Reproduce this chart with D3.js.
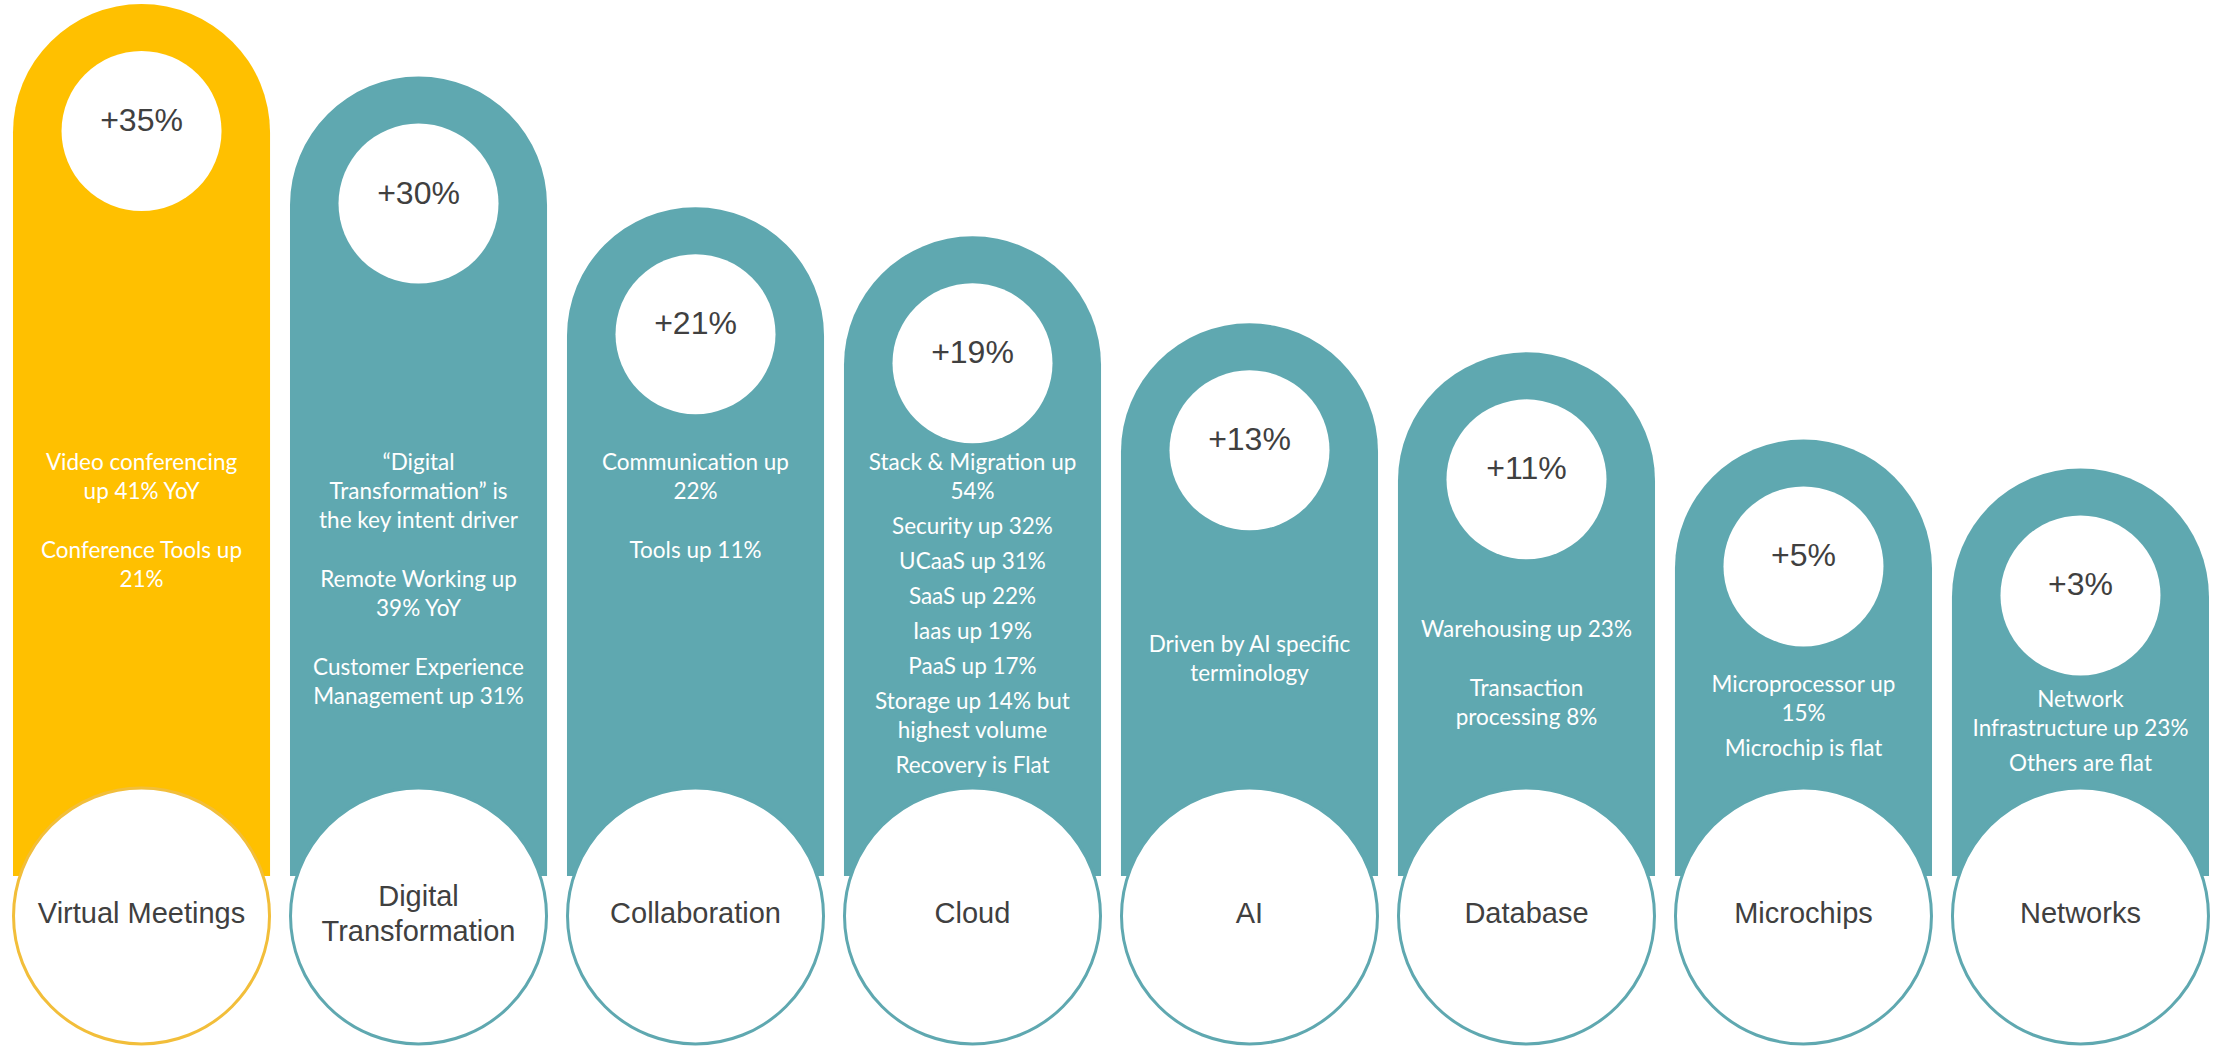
<!DOCTYPE html>
<html>
<head>
<meta charset="utf-8">
<script src="https://cdn.jsdelivr.net/npm/d3@7"></script>
<style>
  html, body { margin: 0; padding: 0; background: #fff; overflow: hidden; }
  svg { display: block; }
  .note { font-family: Lato, "Open Sans", sans-serif; fill: #fff; font-size: 22.5px; }
  .pct, .cat { font-family: "Liberation Sans", Arial, Helvetica, sans-serif; fill: #404040; }
</style>
</head>
<body>
<svg id="chart"></svg>
<script>
// Topic categories and their year-over-year intent growth (%)
const categories = [
  "Virtual Meetings", "Digital Transformation", "Collaboration", "Cloud",
  "AI", "Database", "Microchips", "Networks"
];
const growth = [35, 30, 21, 19, 13, 11, 5, 3];

// Supporting notes per category: paragraphs, each a list of lines
const notes = [
  [["Video conferencing", "up 41% YoY"], ["Conference Tools up", "21%"]],
  [["\u201CDigital", "Transformation\u201D is", "the key intent driver"],
   ["Remote Working up", "39% YoY"],
   ["Customer Experience", "Management up 31%"]],
  [["Communication up", "22%"], ["Tools up 11%"]],
  [["Stack & Migration up", "54%"], ["Security up 32%"], ["UCaaS up 31%"],
   ["SaaS up 22%"], ["Iaas up 19%"], ["PaaS up 17%"],
   ["Storage up 14% but", "highest volume"], ["Recovery is Flat"]],
  [["Driven by AI specific", "terminology"]],
  [["Warehousing up 23%"], ["Transaction", "processing 8%"]],
  [["Microprocessor up", "15%"], ["Microchip is flat"]],
  [["Network", "Infrastructure up 23%"], ["Others are flat"]]
];

const highlighted = "Virtual Meetings";

// ---- layout ----
const W = 2221, H = 1046;
const gold = "#FFC000", goldLine = "#F2BE3A";
const teal = "#5FA8B0";
const barBottom = 876;          // bars run behind the label circles
const labelCy = 916, labelR = 128;
const innerR = 80, innerOffset = 127;
const notesTop = 470;           // common first baseline for notes when there is room
const lineH = 29;
const compactNotes = new Set(["Cloud", "Microchips", "Networks"]);

const data = categories.map((c, i) => ({ cat: c, value: growth[i], notes: notes[i] }));

const svg = d3.select("#chart").attr("width", W).attr("height", H);

const x = d3.scaleBand()
  .domain(categories)
  .range([13, 2209])
  .paddingInner(0.072)
  .paddingOuter(0);

const y = d3.scaleLinear().domain([0, 35]).range([512, 4]);

const g = svg.selectAll("g.col")
  .data(data)
  .join("g")
  .attr("class", "col");

// rounded-top bar
g.append("path")
  .attr("fill", d => d.cat === highlighted ? gold : teal)
  .attr("d", d => {
    const l = x(d.cat), w = x.bandwidth(), r = w / 2, t = y(d.value);
    return `M${l},${barBottom} V${t + r} A${r},${r} 0 0 1 ${l + w},${t + r} V${barBottom} Z`;
  });

// growth badge
g.append("circle")
  .attr("cx", d => x(d.cat) + x.bandwidth() / 2)
  .attr("cy", d => y(d.value) + innerOffset)
  .attr("r", innerR)
  .attr("fill", "#fff");

g.append("text")
  .attr("class", "pct")
  .attr("x", d => x(d.cat) + x.bandwidth() / 2)
  .attr("y", d => y(d.value) + innerOffset)
  .attr("text-anchor", "middle")
  .attr("font-size", 32)
  .text(d => `+${d.value}%`);

// category label circle
g.append("circle")
  .attr("cx", d => x(d.cat) + x.bandwidth() / 2)
  .attr("cy", labelCy)
  .attr("r", labelR)
  .attr("fill", "#fff")
  .attr("stroke", d => d.cat === highlighted ? goldLine : teal)
  .attr("stroke-width", 3);

// category label, wrapped to fit inside the circle
g.each(function (d) {
  const cx = x(d.cat) + x.bandwidth() / 2;
  const t = d3.select(this).append("text")
    .attr("class", "cat")
    .attr("text-anchor", "middle")
    .attr("font-size", 29);
  const maxW = 225;
  const words = d.cat.split(" ");
  const lines = [];
  let cur = [];
  const probe = t.append("tspan");
  words.forEach(wd => {
    const test = cur.concat(wd).join(" ");
    probe.text(test);
    if (probe.node().getComputedTextLength() > maxW && cur.length) {
      lines.push(cur.join(" "));
      cur = [wd];
    } else {
      cur.push(wd);
    }
  });
  lines.push(cur.join(" "));
  probe.remove();
  const lh = 35, base = labelCy + 7;
  lines.forEach((ln, i) => {
    t.append("tspan")
      .attr("x", cx)
      .attr("y", base + (i - (lines.length - 1) / 2) * lh)
      .text(ln);
  });
});

// supporting notes
g.each(function (d) {
  const cx = x(d.cat) + x.bandwidth() / 2;
  const paraGap = compactNotes.has(d.cat) ? 35 : 59;
  // baseline offsets of every line relative to the first one
  const rows = [];
  let off = 0;
  d.notes.forEach((para, pi) => {
    if (pi > 0) off += paraGap - lineH;
    para.forEach((ln, li) => {
      if (pi > 0 || li > 0) off += lineH;
      rows.push({ text: ln, off });
    });
  });
  const span = off;
  const badgeBottom = y(d.value) + innerOffset + innerR;
  const spaceTop = labelCy - labelR;
  let first;
  if (badgeBottom < notesTop) {
    first = notesTop;
  } else {
    const mid = (badgeBottom + spaceTop) / 2;
    first = mid + 7 - span / 2;
  }
  const t = d3.select(this).append("text")
    .attr("class", "note")
    .attr("text-anchor", "middle");
  rows.forEach(r => {
    t.append("tspan").attr("x", cx).attr("y", first + r.off).text(r.text);
  });
});
</script>
</body>
</html>
